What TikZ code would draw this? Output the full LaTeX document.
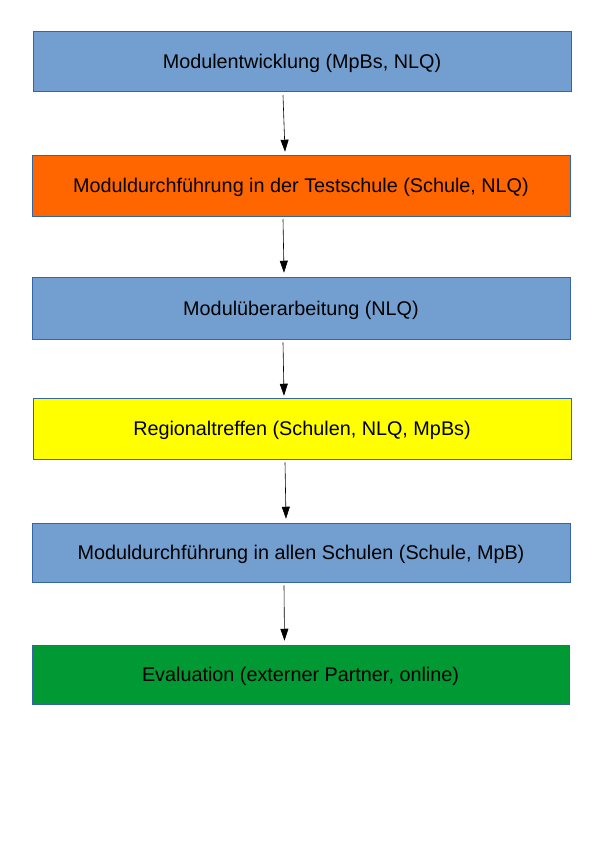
\documentclass[tikz,border=0pt]{standalone}
\usepackage{fontspec}
\setmainfont{Liberation Sans}
\usetikzlibrary{arrows.meta}
\definecolor{lblue}{HTML}{729FCF}
\definecolor{lorange}{HTML}{FF6600}
\definecolor{lyellow}{HTML}{FFFF00}
\definecolor{lgreen}{HTML}{009933}
\definecolor{bord}{HTML}{3465A4}
\begin{document}
\begin{tikzpicture}[x=1pt,y=-1pt,
  stepbox/.style={draw=bord,line width=0.5pt,minimum width=538pt,inner sep=0pt,text height=16.5pt,text depth=2.3pt,font=\fontsize{19.8}{22}\selectfont,text=black},
  arr/.style={-{Triangle[length=12pt,width=8pt]},line width=0.6pt,black}]
\useasboundingbox (0,0) rectangle (600,849);
\node[stepbox,fill=lblue,minimum height=60pt] (a) at (302,61) {Modulentwicklung (MpBs, NLQ)};
\node[stepbox,fill=lorange,minimum height=61pt] (b) at (301,185.5) {Moduldurchführung in der Testschule (Schule, NLQ)};
\node[stepbox,fill=lblue,minimum height=62pt] (c) at (301,308) {Modulüberarbeitung (NLQ)};
\node[stepbox,fill=lyellow,minimum height=61pt] (d) at (302,428.5) {Regionaltreffen (Schulen, NLQ, MpBs)};
\node[stepbox,fill=lblue,minimum height=59pt] (e) at (301,552.5) {Moduldurchführung in allen Schulen (Schule, MpB)};
\node[stepbox,fill=lgreen,minimum height=59pt,minimum width=537pt] (f) at (300.5,674.5) {Evaluation (externer Partner, online)};
\draw[arr] ([xshift=-19pt,yshift=-4pt]a.south) -- ([xshift=-16pt,yshift=3pt]b.north);
\draw[arr] ([xshift=-18pt,yshift=-3pt]b.south) -- ([xshift=-17pt,yshift=4pt]c.north);
\draw[arr] ([xshift=-18pt,yshift=-3pt]c.south) -- ([xshift=-18pt,yshift=2pt]d.north);
\draw[arr] ([xshift=-17pt,yshift=-3pt]d.south) -- ([xshift=-15pt,yshift=4pt]e.north);
\draw[arr] ([xshift=-17pt,yshift=-3pt]e.south) -- ([xshift=-16pt,yshift=4pt]f.north);
\end{tikzpicture}
\end{document}
